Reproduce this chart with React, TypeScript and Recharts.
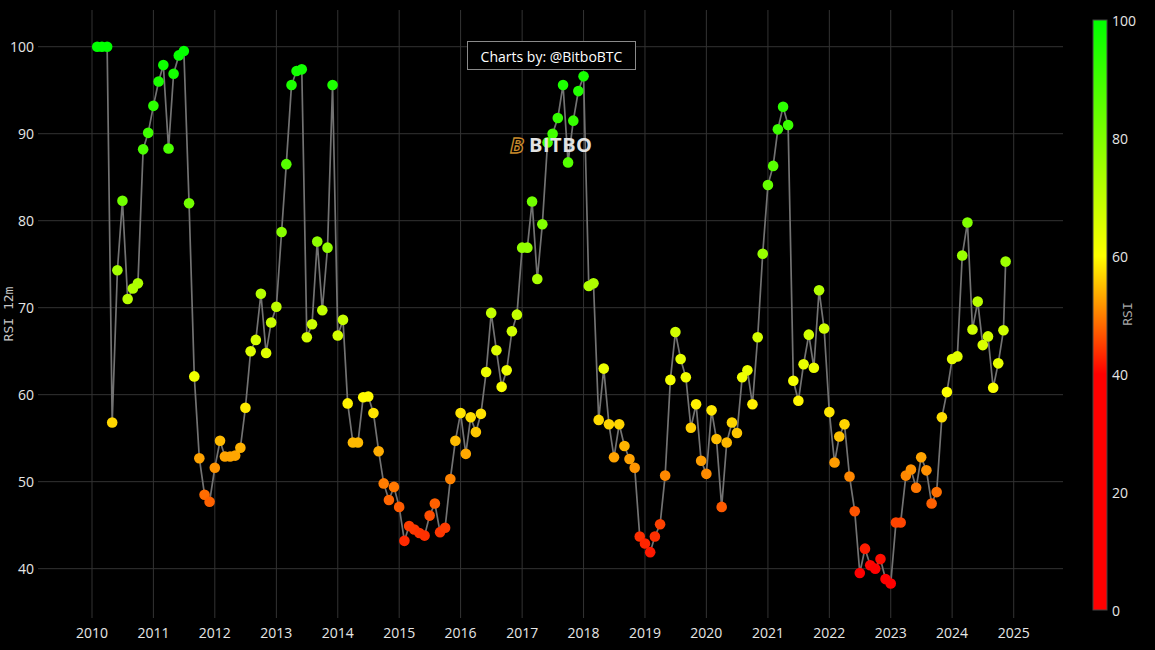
import React from 'react';
import { LineChart, Line, XAxis, YAxis, ReferenceLine } from 'recharts';

// ---------- data ----------
const startYear = 2010;
const startMonth = 2; // first monthly point: Feb 2010
const rsi2010 = [100, 100, 100, 56.8, 74.3, 82.3, 71.0, 72.2, 72.8, 88.2, 90.1];
const rsi2011 = [93.2, 96.0, 97.9, 88.3, 96.9, 99.0, 99.5, 82.0, 62.1, 52.7, 48.5, 47.7];
const rsi2012 = [51.6, 54.7, 52.9, 52.9, 53.0, 53.9, 58.5, 65.0, 66.3, 71.6, 64.8, 68.3];
const rsi2013 = [70.1, 78.7, 86.5, 95.6, 97.2, 97.4, 66.6, 68.1, 77.6, 69.7, 76.9, 95.6];
const rsi2014 = [66.8, 68.6, 59.0, 54.5, 54.5, 59.7, 59.8, 57.9, 53.5, 49.8, 47.9, 49.4];
const rsi2015 = [47.1, 43.2, 44.9, 44.5, 44.1, 43.8, 46.1, 47.5, 44.2, 44.7, 50.3, 54.7];
const rsi2016 = [57.9, 53.2, 57.4, 55.7, 57.8, 62.6, 69.4, 65.1, 60.9, 62.8, 67.3, 69.2];
const rsi2017 = [76.9, 76.9, 82.2, 73.3, 79.6, 89.0, 90.0, 91.8, 95.6, 86.7, 91.5, 94.9];
const rsi2018 = [96.6, 72.5, 72.8, 57.1, 63.0, 56.6, 52.8, 56.6, 54.1, 52.6, 51.6, 43.7];
const rsi2019 = [42.9, 41.9, 43.7, 45.1, 50.7, 61.7, 67.2, 64.1, 62.0, 56.2, 58.9, 52.4];
const rsi2020 = [50.9, 58.2, 54.9, 47.1, 54.5, 56.8, 55.6, 62.0, 62.8, 58.9, 66.6, 76.2];
const rsi2021 = [84.1, 86.3, 90.5, 93.1, 91.0, 61.6, 59.3, 63.5, 66.9, 63.1, 72.0, 67.6];
const rsi2022 = [58.0, 52.2, 55.2, 56.6, 50.6, 46.6, 39.5, 42.3, 40.4, 40.0, 41.1, 38.8];
const rsi2023 = [38.3, 45.3, 45.3, 50.7, 51.4, 49.3, 52.8, 51.3, 47.5, 48.8, 57.4, 60.3];
const rsi2024 = [64.1, 64.4, 76.0, 79.8, 67.5, 70.7, 65.7, 66.7, 60.8, 63.6, 67.4];
const lastPointDate = '2024-11-14';
const lastPointRsi = 75.3;

const rsiByYear = [
  rsi2010, rsi2011, rsi2012, rsi2013, rsi2014, rsi2015, rsi2016, rsi2017,
  rsi2018, rsi2019, rsi2020, rsi2021, rsi2022, rsi2023, rsi2024,
];

const yearTicks = [2010, 2011, 2012, 2013, 2014, 2015, 2016, 2017, 2018, 2019, 2020, 2021, 2022, 2023, 2024, 2025];
const yTicks = [40, 50, 60, 70, 80, 90, 100];
const colorbarTicks = [0, 20, 40, 60, 80, 100];
const xDomainDates = ['2009-02-14', '2025-10-21'];
const yDomain = [34.33, 104.22];

// ---------- build table ----------
type Row = { t: number; rsi: number };
const data: Row[] = [];
rsiByYear.forEach((vals, yi) => {
  const year = startYear + yi;
  const m0 = yi === 0 ? startMonth - 1 : 0;
  vals.forEach((v, i) => data.push({ t: Date.UTC(year, m0 + i, 1), rsi: v }));
});
data.push({ t: Date.parse(lastPointDate), rsi: lastPointRsi });

const xTicks = yearTicks.map((y) => Date.UTC(y, 0, 1));
const xDomain = xDomainDates.map((d) => Date.parse(d));

// red (<=40) -> yellow (60) -> green (100)
const rsiColor = (v: number) => {
  let r = 255, g = 0;
  if (v <= 40) { r = 255; g = 0; }
  else if (v <= 60) { r = 255; g = Math.round(((v - 40) / 20) * 255); }
  else { r = Math.round(((100 - Math.min(v, 100)) / 40) * 255); g = 255; }
  return `rgb(${r},${g},0)`;
};

const renderDot = (props: any) => {
  const { cx, cy, payload, index } = props;
  if (cx == null || cy == null) return <g key={`e${index}`} />;
  return <circle key={`d${index}`} cx={cx} cy={cy} r={5.3} fill={rsiColor(payload.rsi)} stroke="none" />;
};

const tickStyle = { fill: '#e6e6e6', fontSize: 14, fontFamily: '"Open Sans", Verdana, sans-serif' };
const gridColor = '#333333';

// colorbar geometry
const cbX = 1093, cbW = 14, cbTop = 20, cbBottom = 610;
const cbY = (v: number) => cbBottom - (v / 100) * (cbBottom - cbTop);

export default function App() {
  return (
    <div style={{ position: 'absolute', left: 0, top: 0, width: 1155, height: 650, background: '#000', overflow: 'hidden' }}>
      <LineChart width={1155} height={650} data={data} margin={{ top: 10, right: 92, bottom: 0, left: 0 }}>
        <XAxis
          dataKey="t"
          type="number"
          domain={xDomain}
          ticks={xTicks}
          interval={0}
          allowDataOverflow
          axisLine={false}
          tickLine={false}
          tickSize={0}
          tickMargin={10}
          height={32}
          tick={tickStyle}
          tickFormatter={(v: number) => String(new Date(v).getUTCFullYear())}
        />
        <YAxis
          type="number"
          domain={yDomain}
          ticks={yTicks}
          interval={0}
          allowDataOverflow
          axisLine={false}
          tickLine={false}
          tickSize={0}
          tickMargin={4}
          width={38}
          tick={tickStyle}
        />
        {yTicks.map((v) => (
          <ReferenceLine key={`h${v}`} y={v} stroke={gridColor} strokeWidth={1} />
        ))}
        {xTicks.map((t) => (
          <ReferenceLine key={`v${t}`} x={t} stroke={gridColor} strokeWidth={1} />
        ))}
        <Line
          type="linear"
          dataKey="rsi"
          stroke="#727272"
          strokeWidth={1.7}
          dot={renderDot}
          activeDot={false}
          isAnimationActive={false}
        />
      </LineChart>

      <svg width={1155} height={650} style={{ position: 'absolute', left: 0, top: 0, pointerEvents: 'none' }}>
        <defs>
          <linearGradient id="rsiGrad" x1="0" y1="1" x2="0" y2="0">
            <stop offset="0%" stopColor="#ff0000" />
            <stop offset="40%" stopColor="#ff0000" />
            <stop offset="60%" stopColor="#ffff00" />
            <stop offset="100%" stopColor="#00ff00" />
          </linearGradient>
        </defs>

        {/* y axis title */}
        <text
          x={8}
          y={314}
          transform="rotate(-90 8 314)"
          textAnchor="middle"
          dominantBaseline="central"
          fill="#c8c8c8"
          fontSize={13}
          fontFamily='"DejaVu Sans Mono", monospace'
        >
          RSI 12m
        </text>

        {/* colorbar */}
        <rect x={cbX} y={cbTop} width={cbW} height={cbBottom - cbTop} fill="url(#rsiGrad)" stroke="#444" strokeWidth={1} />
        {colorbarTicks.map((v) => (
          <text
            key={v}
            x={cbX + cbW + 5}
            y={cbY(v)}
            dominantBaseline="central"
            fill="#e6e6e6"
            fontSize={14}
            fontFamily='"Open Sans", Verdana, sans-serif'
          >
            {v}
          </text>
        ))}
        <text
          x={1127}
          y={314}
          transform="rotate(-90 1127 314)"
          textAnchor="middle"
          dominantBaseline="central"
          fill="#a8a8a8"
          fontSize={13}
          fontFamily='"DejaVu Sans Mono", monospace'
        >
          RSI
        </text>

        {/* credit box */}
        <rect x={467.5} y={41.5} width={168} height={28} fill="#000" stroke="#8a8a8a" strokeWidth={1} />
        <text
          x={551.5}
          y={56}
          textAnchor="middle"
          dominantBaseline="central"
          fill="#ffffff"
          fontSize={14}
          fontFamily='"Open Sans", Verdana, sans-serif'
        >
          Charts by: @BitboBTC
        </text>

        {/* BITBO watermark */}
        <text
          x={510}
          y={153}
          fill="none"
          stroke="#c98a2b"
          strokeWidth={1.3}
          fontSize={22}
          fontWeight={700}
          fontStyle="italic"
          fontFamily='"Open Sans", sans-serif'
        >
          B
        </text>
        <text
          x={529}
          y={152}
          fill="#e2e2e2"
          fontSize={20}
          fontWeight={700}
          letterSpacing={0.5}
          fontFamily='"Open Sans", sans-serif'
        >
          BITBO
        </text>
      </svg>
    </div>
  );
}
